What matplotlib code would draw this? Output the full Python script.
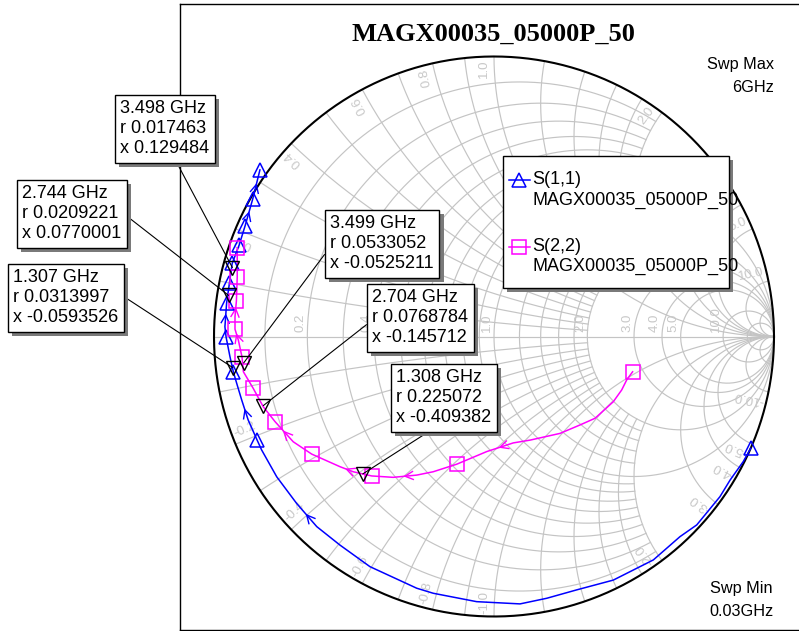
import numpy as np
import matplotlib
matplotlib.use('Agg')
import matplotlib.pyplot as plt
import matplotlib.patheffects as pe
from matplotlib.patches import Rectangle

plt.rcParams['font.family'] = ['Liberation Sans', 'DejaVu Sans']

# ---- data ----
title = 'MAGX00035_05000P_50'
trace_names = ['S(1,1)', 'S(2,2)']
swp_max = ['Swp Max', '6GHz']
swp_min = ['Swp Min', '0.03GHz']

# S(1,1) reflection coefficient, 0.03 GHz -> 6 GHz
s11_re = [0.917, 0.890, 0.843, 0.807, 0.724, 0.664, 0.569, 0.426, 0.295, 0.188,
          0.093, -0.062, -0.217, -0.276, -0.443, -0.550, -0.633, -0.705, -0.776, -0.830,
          -0.846, -0.878, -0.901, -0.919, -0.931, -0.943, -0.957, -0.961, -0.955, -0.945,
          -0.935, -0.910, -0.889, -0.862, -0.836]
s11_im = [-0.399, -0.447, -0.513, -0.572, -0.673, -0.715, -0.798, -0.870, -0.905, -0.935,
          -0.955, -0.947, -0.917, -0.899, -0.822, -0.745, -0.679, -0.596, -0.501, -0.405,
          -0.370, -0.298, -0.227, -0.167, -0.126, -0.072, -0.001, 0.035, 0.119, 0.190,
          0.261, 0.327, 0.395, 0.490, 0.595]
s11_sym = [0, 20, 24, 26, 28, 29, 30, 31, 32, 33, 34]
s11_arrows = [16, 21, 27, 32, 33]

# S(2,2)
s22_re = [0.495, 0.474, 0.456, 0.426, 0.361, 0.307, 0.236, 0.129, 0.069, -0.026,
          -0.133, -0.217, -0.276, -0.360, -0.437, -0.503, -0.550, -0.651, -0.717, -0.782,
          -0.824, -0.860, -0.895, -0.900, -0.913, -0.925, -0.925, -0.920, -0.917, -0.917]
s22_im = [-0.126, -0.155, -0.191, -0.233, -0.292, -0.316, -0.346, -0.370, -0.380, -0.411,
          -0.456, -0.483, -0.495, -0.503, -0.498, -0.483, -0.465, -0.420, -0.376, -0.304,
          -0.251, -0.185, -0.126, -0.073, -0.013, 0.026, 0.071, 0.127, 0.213, 0.316]
s22_sym = [0, 10, 14, 17, 19, 21, 23, 25, 27, 28, 29]
s22_arrows = [8, 12, 15, 18, 24, 26]

# markers (normalised impedance)
mk_freq = ['3.498 GHz', '2.744 GHz', '1.307 GHz', '3.499 GHz', '2.704 GHz', '1.308 GHz']
mk_r = [0.017463, 0.0209221, 0.0313997, 0.0533052, 0.0768784, 0.225072]
mk_x = [0.129484, 0.0770001, -0.0593526, -0.0525211, -0.145712, -0.409382]
# box top-left in image pixels, and where the leader leaves the box
mk_box = [(115, 95), (17, 180), (8, 264), (325, 210), (367, 284), (391, 364)]
mk_rel = [(0.6, 0.0), (1.0, 0.53), (1.0, 0.58), (0.0, 0.45), (0.0, 0.46), (0.43, 0.0)]

# smith grid values
fine_vals = [0.1, 0.2, 0.3, 0.4, 0.5, 0.6, 0.7, 0.8, 0.9, 1.2, 1.4, 1.6, 1.8]
major_vals = [1.0, 2.0, 3.0, 4.0, 5.0, 10.0, 20.0]
r_label_vals = [0.2, 0.4, 1.0, 2.0, 3.0, 4.0, 5.0, 10.0]   # 0.6/0.8 sit under a marker box
x_label_vals = [0.2, 0.4, 0.6, 0.8, 1.0, 2.0, 3.0, 4.0, 5.0, 10.0]

GRID = '#c4c4c4'
LBL = '#c8c8c8'
W, H = 799, 631
CX, CY, R = 494.0, 336.5, 280.0


def px(d):
    return d / R


fig = plt.figure(figsize=(W / 100, H / 100), dpi=100)
top, bot, left, right = 4, 630, 180, 815
ax = fig.add_axes([left / W, (H - bot) / H, (right - left) / W, (bot - top) / H])
ax.set_xlim((left - CX) / R, (right - CX) / R)
ax.set_ylim((CY - bot) / R, (CY - top) / R)
ax.set_xticks([])
ax.set_yticks([])
for s in ax.spines.values():
    s.set_linewidth(1.0)


# grid
def r_curve(r, xmax=None):
    if xmax is None:
        t = np.linspace(0, 2 * np.pi, 500)
        return r / (1 + r) + np.cos(t) / (1 + r), np.sin(t) / (1 + r)
    xs = np.tan(np.linspace(-np.arctan(xmax), np.arctan(xmax), 300))
    g = (r + 1j * xs - 1) / (r + 1j * xs + 1)
    return g.real, g.imag


def x_curve(x, rmax=None):
    if rmax is None:
        rs = np.tan(np.linspace(0, np.pi / 2 - 1e-5, 600))
    else:
        rs = np.linspace(0, rmax, 300)
    g = (rs + 1j * x - 1) / (rs + 1j * x + 1)
    return g.real, g.imag


for v in fine_vals:
    ax.plot(*r_curve(v, 2.0), color=GRID, lw=0.85, zorder=1)
    for sg in (1, -1):
        ax.plot(*x_curve(sg * v, 2.0), color=GRID, lw=0.85, zorder=1)
for v in major_vals:
    ax.plot(*r_curve(v), color=GRID, lw=0.85, zorder=1)
    for sg in (1, -1):
        ax.plot(*x_curve(sg * v), color=GRID, lw=0.85, zorder=1)
ax.plot([-1, 1], [0, 0], color=GRID, lw=0.85, zorder=1)

t = np.linspace(0, 2 * np.pi, 600)
ax.plot(np.cos(t), np.sin(t), color='black', lw=1.5, zorder=2)

# grid labels
for v in r_label_vals:
    g = (v - 1) / (v + 1)
    ax.text(g - px(1), px(4), f'{v:.1f}', rotation=90, rotation_mode='anchor',
            ha='left', va='bottom', fontsize=9.5, color=LBL, zorder=2)
for v in x_label_vals:
    for sg in (1, -1):
        x = sg * v
        g = (1j * x - 1) / (1j * x + 1)
        th = np.angle(g)
        u = np.array([np.cos(th), np.sin(th)])
        tc = np.array([-np.sin(th), np.cos(th)])
        if x > 0:
            p = np.array([g.real, g.imag]) - px(3) * u + px(4) * tc
            ax.text(p[0], p[1], f'{x:.1f}', rotation=np.degrees(th), rotation_mode='anchor',
                    ha='right', va='bottom', fontsize=9.5, color=LBL, zorder=2)
        else:
            p = np.array([g.real, g.imag]) - px(3) * u - px(4) * tc
            ax.text(p[0], p[1], f'{x:.1f}', rotation=np.degrees(th) + 180, rotation_mode='anchor',
                    ha='left', va='bottom', fontsize=9.5, color=LBL, zorder=2)


def arrows(re, im, idx, color):
    for i in idx:
        p0 = np.array([re[i], im[i]])
        p1 = np.array([re[i + 1], im[i + 1]])
        m = (p0 + p1) / 2
        d = (p1 - p0) / np.hypot(*(p1 - p0))
        n = np.array([-d[1], d[0]])
        a = m - px(8) * d + px(4) * n
        b = m - px(8) * d - px(4) * n
        ax.plot([a[0], m[0], b[0]], [a[1], m[1], b[1]], color=color, lw=1.0, zorder=4)


# traces
ax.plot(s11_re, s11_im, color='#0000ff', lw=1.1, zorder=4)
ax.plot(np.array(s11_re)[s11_sym], np.array(s11_im)[s11_sym], ls='none', marker='^',
        ms=9.5, mfc='none', mec='#0000ff', mew=1.1, zorder=5)
arrows(s11_re, s11_im, s11_arrows, '#0000ff')

ax.plot(s22_re, s22_im, color='#ff00ff', lw=1.1, zorder=4)
ax.plot(np.array(s22_re)[s22_sym], np.array(s22_im)[s22_sym], ls='none', marker='s',
        ms=10, mfc='none', mec='#ff00ff', mew=1.1, zorder=5)
arrows(s22_re, s22_im, s22_arrows, '#ff00ff')

# markers + annotation boxes
z = np.array(mk_r) + 1j * np.array(mk_x)
gm = (z - 1) / (z + 1)
ax.plot(gm.real, gm.imag, ls='none', marker='v', ms=10, mfc='none', mec='black',
        mew=1.0, zorder=6)
pad = 5.4
for i in range(len(mk_freq)):
    txt = f'{mk_freq[i]}\nr {mk_r[i]!r}\nx {mk_x[i]!r}'
    bx, by = mk_box[i]
    ann = ax.annotate(txt, xy=(gm[i].real, gm[i].imag), xycoords='data',
                      xytext=(bx + pad, H - by - pad), textcoords='figure pixels',
                      ha='left', va='top', fontsize=13, linespacing=1.22,
                      bbox=dict(boxstyle='square,pad=0.3', fc='white', ec='black', lw=1.0),
                      arrowprops=dict(arrowstyle='-', color='black', lw=0.8,
                                      relpos=mk_rel[i], shrinkA=0, shrinkB=0),
                      annotation_clip=False, zorder=7)
    ann.get_bbox_patch().set_path_effects(
        [pe.withSimplePatchShadow(offset=(3, -3), shadow_rgbFace='#7a7a7a', alpha=1.0)])

# overlay in image pixels for title, sweep text and legend
ov = fig.add_axes([0, 0, 1, 1])
ov.set_xlim(0, W)
ov.set_ylim(H, 0)
ov.axis('off')

ov.text(493, 34, title, ha='center', va='center', fontsize=19, fontweight='bold',
        family='Liberation Serif')
ov.text(774, 65, swp_max[0], ha='right', va='center', fontsize=11.7)
ov.text(774, 87, swp_max[1], ha='right', va='center', fontsize=11.7)
ov.text(773, 589, swp_min[0], ha='right', va='center', fontsize=11.7)
ov.text(773, 611, swp_min[1], ha='right', va='center', fontsize=11.7)

ov.add_patch(Rectangle((507, 160), 226, 132, fc='#7a7a7a', ec='none'))
ov.add_patch(Rectangle((503, 156), 226, 132, fc='white', ec='black', lw=1.0))
styles = [('#0000ff', '^', 9.5), ('#ff00ff', 's', 10)]
for k, name in enumerate(trace_names):
    c, m, ms = styles[k]
    y0 = 180 + k * 66.7
    ov.plot([508.5, 529.5], [y0, y0], color=c, lw=1.1)
    ov.plot([519], [y0], ls='none', marker=m, ms=ms, mfc='none', mec=c, mew=1.1)
    ov.text(532.5, y0, name, ha='left', va='center', fontsize=13)
    ov.text(532.5, y0 + 20, title, ha='left', va='center', fontsize=13)

fig.savefig('out.png', dpi=100)
